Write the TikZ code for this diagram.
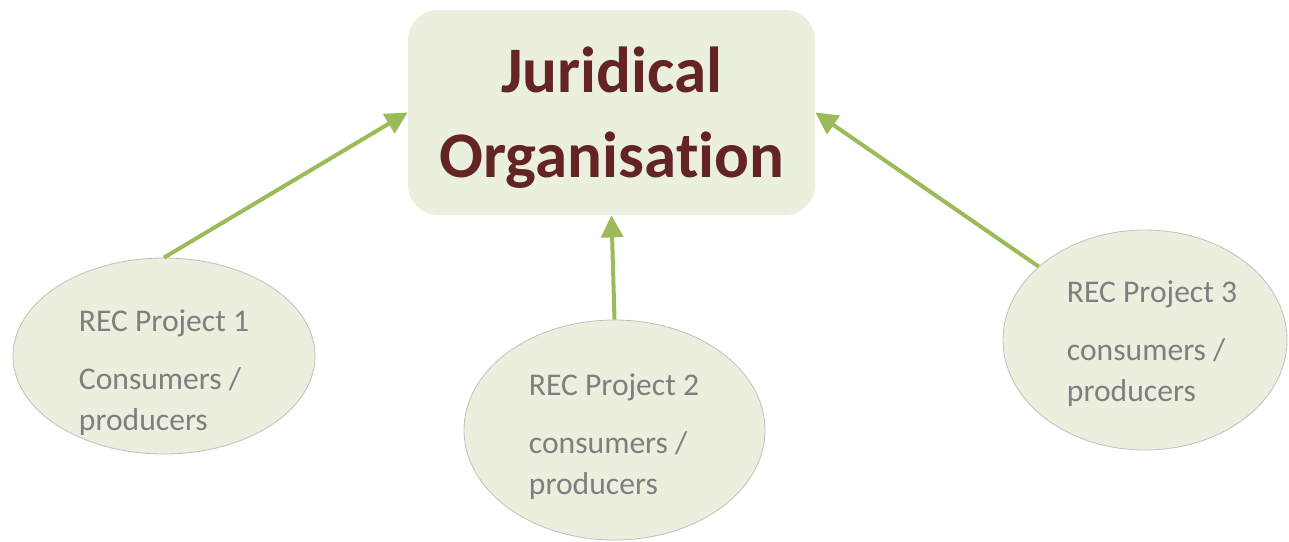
\documentclass[tikz,border=0pt]{standalone}
\usepackage{fontspec}
\setmainfont{Carlito}[Ligatures=NoCommon]
\usetikzlibrary{arrows.meta,shapes.geometric}
\definecolor{paleolive}{HTML}{EBEFDE}
\definecolor{rimgrey}{HTML}{BFBFBF}
\definecolor{textgrey}{HTML}{7F7F7F}
\definecolor{maroon}{HTML}{632423}
\definecolor{leafgreen}{HTML}{9BBB59}
\tikzset{
  orgbox/.style={rectangle,rounded corners=15pt,fill=paleolive,minimum width=203.5pt,minimum height=102.5pt,inner sep=0pt},
  recblob/.style={ellipse,draw=rimgrey,line width=0.4pt,fill=paleolive,inner sep=0pt},
  rectext/.style={align=left,text=textgrey,font=\fontsize{15.8}{20.5}\selectfont},
  feed/.style={draw=leafgreen,line width=2pt,-{Triangle[length=11pt,width=11pt]}}
}
\begin{document}
\begin{tikzpicture}[x=0.5pt,y=-0.5pt]
\useasboundingbox (0,0) rectangle (1289,541);
				\node[orgbox] (org) at (611.5,112.5) {};
				\node[align=center,text=maroon,font=\fontsize{32.5}{42.5}\selectfont\bfseries] (orgtxt) at (612,118) {Juridical\\Organisation};
				\node[recblob,minimum width=151pt,minimum height=98pt] (rec1) at (164,356) {};
				\node[recblob,minimum width=150.5pt,minimum height=110pt] (rec2) at (614.5,430) {};
				\node[recblob,minimum width=142pt,minimum height=110pt] (rec3) at (1145,340) {};
				\node[rectext] (rec1txt) at (164,373) {REC Project 1\\[8.5pt]Consumers /\\producers};
				\node[rectext] (rec2txt) at (614,437) {REC Project 2\\[8.5pt]consumers /\\producers};
				\node[rectext] (rec3txt) at (1152,344) {REC Project 3\\[8.5pt]consumers /\\producers};
				\draw[feed] (rec1.north) -- (org.west);
				\draw[feed] (rec2.north) -- (org.south);
				\draw[feed] (rec3) -- (org.east);
			\end{tikzpicture}
\end{document}
